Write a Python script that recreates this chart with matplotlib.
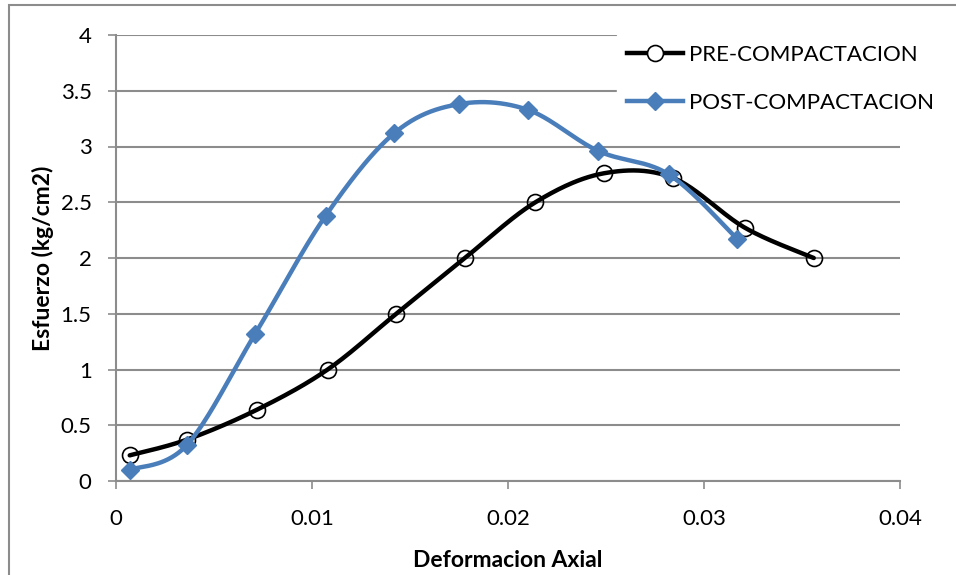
import matplotlib
matplotlib.use('Agg')
import matplotlib.pyplot as plt
from matplotlib.lines import Line2D
from matplotlib.patches import Rectangle
import numpy as np

plt.rcParams['font.family'] = ['Lato', 'DejaVu Sans']

# values
pre_x = [0.0007, 0.0036, 0.0072, 0.0108, 0.0143, 0.0178, 0.0214, 0.0249, 0.0284, 0.0321, 0.0356]
pre_y = [0.23, 0.37, 0.64, 1.00, 1.50, 2.00, 2.50, 2.76, 2.72, 2.27, 2.00]
post_x = [0.0007, 0.0036, 0.0071, 0.0107, 0.0142, 0.0175, 0.0210, 0.0246, 0.0282, 0.0317]
post_y = [0.10, 0.32, 1.32, 2.38, 3.12, 3.38, 3.33, 2.96, 2.75, 2.17]

xticks = [0, 0.01, 0.02, 0.03, 0.04]
xtick_labels = ['0', '0.01', '0.02', '0.03', '0.04']
yticks = [0, 0.5, 1, 1.5, 2, 2.5, 3, 3.5, 4]
ytick_labels = ['0', '0.5', '1', '1.5', '2', '2.5', '3', '3.5', '4']

GRAY = '#8c8c8c'
BLUE = '#4a7ebb'


def smooth(xs, ys, n=40):
    # excel-style smoothed line: cubic bezier through each point
    # scale to a box so the tangents behave like on screen
    p = np.column_stack([np.array(xs) / 0.04 * 784, np.array(ys) / 4 * 446])
    out = [p[0]]
    for i in range(len(p) - 1):
        p0 = p[i - 1] if i > 0 else p[i]
        p3 = p[i + 2] if i + 2 < len(p) else p[i + 1]
        c1 = p[i] + (p[i + 1] - p0) / 6
        c2 = p[i + 1] - (p3 - p[i]) / 6
        t = np.linspace(0, 1, n)[1:, None]
        seg = ((1 - t) ** 3 * p[i] + 3 * (1 - t) ** 2 * t * c1
               + 3 * (1 - t) * t ** 2 * c2 + t ** 3 * p[i + 1])
        out.extend(seg)
    out = np.array(out)
    return out[:, 0] / 784 * 0.04, out[:, 1] / 446 * 4


fig = plt.figure(figsize=(9.56, 5.75), dpi=100)
ax = fig.add_axes([116 / 956, 1 - 481 / 575, 784 / 956, 446 / 575])

fig.patches.append(Rectangle((9 / 956, -0.05), 1.2, 1 - 5 / 575 + 0.05,
                             transform=fig.transFigure, fill=False,
                             edgecolor=GRAY, linewidth=1.5))

sx, sy = smooth(pre_x, pre_y)
ax.plot(sx, sy, color='black', lw=3.2, zorder=3, solid_capstyle='round')
ax.plot(pre_x, pre_y, ls='none', marker='o', ms=11.5, mfc='none', mec='black',
        mew=1.2, zorder=4)

sx, sy = smooth(post_x, post_y)
ax.plot(sx, sy, color=BLUE, lw=3.2, zorder=5, solid_capstyle='round')
ax.plot(post_x, post_y, ls='none', marker='D', ms=9, color=BLUE, zorder=6)

ax.set_xlim(0, 0.04)
ax.set_ylim(0, 4)
ax.set_xticks(xticks)
ax.set_xticklabels(xtick_labels)
ax.set_yticks(yticks)
ax.set_yticklabels(ytick_labels)
ax.yaxis.grid(True, color=GRAY, lw=1.5)
ax.set_axisbelow(True)
for s in ['top', 'right']:
    ax.spines[s].set_visible(False)
for s in ['left', 'bottom']:
    ax.spines[s].set_color(GRAY)
    ax.spines[s].set_linewidth(1.5)
ax.tick_params(direction='out', length=5.5, width=1.2, color=GRAY,
               labelsize=16)
ax.tick_params(axis='x', pad=15)
ax.tick_params(axis='y', pad=12)

ax.set_xlabel('Deformacion Axial', fontsize=16.5, fontweight='bold', labelpad=15)
ax.set_ylabel('Esfuerzo (kg/cm2)', fontsize=16.5, fontweight='bold', labelpad=5)

handles = [
    Line2D([], [], color='black', lw=3.2, marker='o', ms=11.5, mfc='white',
           mec='black', mew=1.2),
    Line2D([], [], color=BLUE, lw=3.2, marker='D', ms=9),
]
leg = fig.legend(handles, ['PRE-COMPACTACION', 'POST-COMPACTACION'],
                 loc='upper left', bbox_to_anchor=(617 / 956, 1 - 35 / 575),
                 frameon=True, fancybox=False, edgecolor='white', framealpha=1,
                 fontsize=16, handlelength=2.5, labelspacing=1.27,
                 handletextpad=0.3, borderpad=0.45, borderaxespad=0)
leg.set_zorder(10)

fig.savefig('out.png', dpi=100)
